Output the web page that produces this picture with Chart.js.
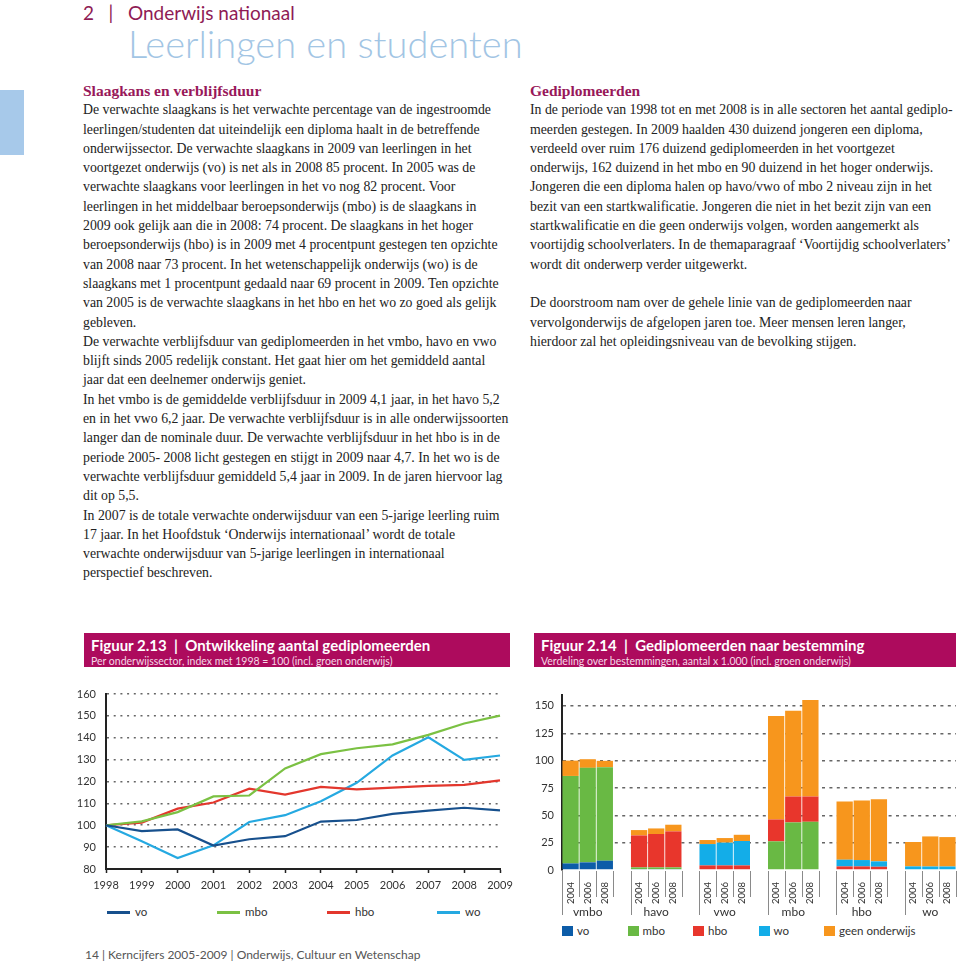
<!DOCTYPE html>
<html lang="nl">
<head>
<meta charset="utf-8">
<title>Leerlingen en studenten</title>
<script src="https://cdn.jsdelivr.net/npm/chart.js@4.4.1/dist/chart.umd.min.js"></script>
<style>
    html, body { margin: 0; padding: 0; background: #fff; }
    body { width: 960px; height: 973px; position: relative; overflow: hidden; font-family: 'Lato', sans-serif; color: #222; }
    .abs { position: absolute; }
    #hoofdstuk { left: 83px; top: 1px; font-size: 19px; line-height: 24px; color: #8f1b55; white-space: pre; }
    #titel { left: 128px; top: 20px; font-size: 38px; line-height: 46px; font-weight: 300; color: #a2c5e4; white-space: nowrap; }
    #blok { left: 0; top: 90px; width: 24px; height: 65px; background: #a7c9ea; }
    .kolom { font-family: 'Liberation Serif', serif; font-size: 13.8px; line-height: 19.3px; color: #222; white-space: nowrap; }
    .kolom h2 { margin: 0; font-size: 15.5px; line-height: 19.3px; color: #98185a; font-weight: bold; }
    .kolom p { margin: 0; }
    #links { left: 83px; top: 81px; }
    #rechts { left: 530px; top: 81px; }
    .figkop { top: 633px; height: 34px; box-sizing: border-box; padding: 3px 7px 0; background: #ad0b5d; color: #fff; white-space: pre; }
    .figkop b { display: block; font-size: 15px; line-height: 19px; font-weight: 700; }
    .figkop span { display: block; font-size: 10.5px; line-height: 12px; color: #f4d8e6; }
    #kop-213 { left: 84px; width: 426px; }
    #kop-214 { left: 534px; width: 422px; }
    #lijn-grafiek { left: 70px; top: 686px; }
    #staaf-grafiek { left: 530px; top: 690px; }
    .legenda-item { font-size: 11.5px; line-height: 14px; color: #333; white-space: nowrap; }
    .legenda-lijn { position: absolute; width: 23px; height: 3px; }
    .legenda-vak { position: absolute; width: 11px; height: 10px; }
    #voet { left: 85px; top: 947px; font-size: 12px; line-height: 16px; color: #555; white-space: pre; }
</style>
</head>
<body>
<div id="hoofdstuk" class="abs">2   |   Onderwijs nationaal</div>
<div id="titel" class="abs">Leerlingen en studenten</div>
<div id="blok" class="abs"></div>

<div id="links" class="abs kolom">
    <h2>Slaagkans en verblijfsduur</h2>
    <p>De verwachte slaagkans is het verwachte percentage van de ingestroomde<br>
    leerlingen/studenten dat uiteindelijk een diploma haalt in de betreffende<br>
    onderwijssector. De verwachte slaagkans in 2009 van leerlingen in het<br>
    voortgezet onderwijs (vo) is net als in 2008 85 procent. In 2005 was de<br>
    verwachte slaagkans voor leerlingen in het vo nog 82 procent. Voor<br>
    leerlingen in het middelbaar beroepsonderwijs (mbo) is de slaagkans in<br>
    2009 ook gelijk aan die in 2008: 74 procent. De slaagkans in het hoger<br>
    beroepsonderwijs (hbo) is in 2009 met 4 procentpunt gestegen ten opzichte<br>
    van 2008 naar 73 procent. In het wetenschappelijk onderwijs (wo) is de<br>
    slaagkans met 1 procentpunt gedaald naar 69 procent in 2009. Ten opzichte<br>
    van 2005 is de verwachte slaagkans in het hbo en het wo zo goed als gelijk<br>
    gebleven.<br>
    De verwachte verblijfsduur van gediplomeerden in het vmbo, havo en vwo<br>
    blijft sinds 2005 redelijk constant. Het gaat hier om het gemiddeld aantal<br>
    jaar dat een deelnemer onderwijs geniet.<br>
    In het vmbo is de gemiddelde verblijfsduur in 2009 4,1 jaar, in het havo 5,2<br>
    en in het vwo 6,2 jaar. De verwachte verblijfsduur is in alle onderwijssoorten<br>
    langer dan de nominale duur. De verwachte verblijfsduur in het hbo is in de<br>
    periode 2005- 2008 licht gestegen en stijgt in 2009 naar 4,7. In het wo is de<br>
    verwachte verblijfsduur gemiddeld 5,4 jaar in 2009. In de jaren hiervoor lag<br>
    dit op 5,5.<br>
    In 2007 is de totale verwachte onderwijsduur van een 5-jarige leerling ruim<br>
    17 jaar. In het Hoofdstuk ‘Onderwijs internationaal’ wordt de totale<br>
    verwachte onderwijsduur van 5-jarige leerlingen in internationaal<br>
    perspectief beschreven.</p>
</div>

<div id="rechts" class="abs kolom">
    <h2>Gediplomeerden</h2>
    <p>In de periode van 1998 tot en met 2008 is in alle sectoren het aantal gediplo-<br>
    meerden gestegen. In 2009 haalden 430 duizend jongeren een diploma,<br>
    verdeeld over ruim 176 duizend gediplomeerden in het voortgezet<br>
    onderwijs, 162 duizend in het mbo en 90 duizend in het hoger onderwijs.<br>
    Jongeren die een diploma halen op havo/vwo of mbo 2 niveau zijn in het<br>
    bezit van een startkwalificatie. Jongeren die niet in het bezit zijn van een<br>
    startkwalificatie en die geen onderwijs volgen, worden aangemerkt als<br>
    voortijdig schoolverlaters. In de themaparagraaf ‘Voortijdig schoolverlaters’<br>
    wordt dit onderwerp verder uitgewerkt.<br>
    <br>
    De doorstroom nam over de gehele linie van de gediplomeerden naar<br>
    vervolgonderwijs de afgelopen jaren toe. Meer mensen leren langer,<br>
    hierdoor zal het opleidingsniveau van de bevolking stijgen.</p>
</div>

<div id="kop-213" class="abs figkop"><b>Figuur 2.13  |  Ontwikkeling aantal gediplomeerden</b><span>Per onderwijssector, index met 1998 = 100 (incl. groen onderwijs)</span></div>
<div id="kop-214" class="abs figkop"><b>Figuur 2.14  |  Gediplomeerden naar bestemming</b><span>Verdeling over bestemmingen, aantal x 1.000 (incl. groen onderwijs)</span></div>

<canvas id="lijn-grafiek" class="abs" width="445" height="213"></canvas>
<canvas id="staaf-grafiek" class="abs" width="430" height="230"></canvas>
<div id="lijn-legenda"></div>
<div id="staaf-legenda"></div>

<div id="voet" class="abs">14 | Kerncijfers 2005-2009 | Onderwijs, Cultuur en Wetenschap</div>

<script>
// Figuur 2.13: index per onderwijssector (1998 = 100)
const jaren = ['1998', '1999', '2000', '2001', '2002', '2003', '2004', '2005', '2006', '2007', '2008', '2009'];
const sectoren = ['vo', 'mbo', 'hbo', 'wo'];
const indexVo = [100, 97.3, 98.1, 90.7, 93.6, 95, 101.7, 102.4, 105.2, 106.7, 108, 106.8];
const indexMbo = [100, 101.8, 106, 113.2, 113.6, 126, 132.5, 135.2, 137, 141.3, 146.5, 150.1];
const indexHbo = [100, 101.2, 107.6, 110.4, 116.7, 114, 117.5, 116.4, 117.2, 118, 118.5, 120.5];
const indexWo = [100, 92.7, 85, 90.8, 101.5, 104.6, 111, 119.4, 131.9, 140.2, 129.9, 131.9];
const indexTicks = [80, 90, 100, 110, 120, 130, 140, 150, 160];

// Figuur 2.14: bestemming van gediplomeerden, x 1.000 (per opleiding: 2004, 2006, 2008)
const opleidingen = ['vmbo', 'havo', 'vwo', 'mbo', 'hbo', 'wo'];
const peiljaren = ['2004', '2006', '2008'];
const bestemmingen = ['vo', 'mbo', 'hbo', 'wo', 'geen onderwijs'];
const naarVo = [6, 7, 8.5, 0.8, 0.8, 0.8, 0, 0, 0, 0, 0, 0, 0, 0, 0, 0, 0, 0];
const naarMbo = [80, 86.4, 85.5, 1.6, 1.6, 1.6, 0, 0, 0, 26.2, 43.5, 44.1, 0, 0, 0, 0, 0, 0];
const naarHbo = [0, 0, 0, 29.2, 30.5, 32.9, 4.2, 4.2, 4.2, 20, 23.7, 23.1, 3.3, 3.3, 3, 0, 0, 0];
const naarWo = [0, 0, 0, 0, 0, 0, 19.5, 20.8, 22.3, 0, 0, 0, 6.1, 5.8, 4.9, 3.3, 3.2, 3.2];
const geenOnderwijs = [14, 7.9, 5.8, 4.9, 5.1, 6.1, 3.7, 4.2, 5.7, 94.7, 78.5, 88.3, 53.3, 54.5, 56.9, 22.3, 27.5, 26.9];
const staafTicks = [0, 25, 50, 75, 100, 125, 150];

const lijnKleuren = ['#17508d', '#7bc143', '#e3372d', '#25a9e1'];
const staafKleuren = ['#0c5ca8', '#69b944', '#e8362c', '#13ade8', '#f7961d'];

document.addEventListener('DOMContentLoaded', () => {
    Chart.defaults.font.family = 'Lato';
    Chart.defaults.color = '#333';

    tekenLijnGrafiek();
    tekenStaafGrafiek();
    maakLegendas();
});

// Lijngrafiek
function tekenLijnGrafiek() {
    const ctx = document.getElementById('lijn-grafiek').getContext('2d');
    const reeksen = [indexVo, indexMbo, indexHbo, indexWo];

    new Chart(ctx, {
        type: 'line',
        data: {
            labels: jaren,
            datasets: reeksen.map((data, i) => ({
                label: sectoren[i],
                data: data,
                borderColor: lijnKleuren[i],
                backgroundColor: lijnKleuren[i]
            }))
        },
        options: {
            responsive: false,
            animation: false,
            layout: { padding: { top: 8, right: 15, bottom: 0, left: 0 } },
            elements: {
                line: { borderWidth: 2.2, tension: 0 },
                point: { radius: 0 }
            },
            plugins: {
                legend: { display: false },
                tooltip: { enabled: false }
            },
            scales: {
                x: {
                    offset: false,
                    grid: { drawOnChartArea: false, tickLength: 4, tickColor: '#222', tickWidth: 1.5 },
                    border: { color: '#222', width: 2 },
                    ticks: { font: { size: 11 }, padding: 6, maxRotation: 0, autoSkip: false },
                    afterFit: scale => {
                        scale.height = 30;
                        scale.paddingLeft = 0;
                        scale.paddingRight = 0;
                    }
                },
                y: {
                    min: 80,
                    max: 160,
                    afterBuildTicks: scale => {
                        scale.ticks = indexTicks.map(v => ({ value: v }));
                    },
                    grid: {
                        drawTicks: false,
                        lineWidth: 1.6,
                        color: c => c.tick && c.tick.value === 80 ? 'rgba(0,0,0,0)' : '#666'
                    },
                    border: { display: true, color: '#222', width: 2, dash: [2, 4.7] },
                    ticks: { font: { size: 11 }, padding: 10 },
                    afterFit: scale => {
                        scale.width = 36;
                        scale.paddingTop = 0;
                        scale.paddingBottom = 0;
                    }
                }
            }
        }
    });
}

// Voegt na elke opleiding een lege plek toe, zodat de groepen los van elkaar staan
function metTussenruimte(waarden, vulling) {
    const uit = [];
    waarden.forEach((w, i) => {
        if (i > 0 && i % peiljaren.length === 0) {
            uit.push(vulling);
        }
        uit.push(w);
    });
    return uit;
}

// Scheidingslijnen en namen van de opleidingen onder de x-as
const groepsIndeling = {
    id: 'groepsIndeling',
    afterDraw(chart) {
        const { ctx, scales: { x } } = chart;
        const slot = x.getPixelForValue(1) - x.getPixelForValue(0);
        const basis = chart.chartArea.bottom;

        ctx.save();
        ctx.strokeStyle = '#8a8a8a';
        ctx.lineWidth = 1;
        ctx.fillStyle = '#333';
        ctx.font = '12px Lato';
        ctx.textAlign = 'center';
        ctx.textBaseline = 'middle';

        opleidingen.forEach((naam, g) => {
            const eerste = g * (peiljaren.length + 1);
            const links = x.getPixelForValue(eerste) - slot / 2;
            for (let k = 0; k <= peiljaren.length; k++) {
                const px = Math.round(links + k * slot) + 0.5;
                ctx.beginPath();
                ctx.moveTo(px, basis + 1);
                ctx.lineTo(px, basis + (k === 0 ? 45 : 27));
                ctx.stroke();
            }
            ctx.fillText(naam, links + slot * peiljaren.length / 2, basis + 42);
        });
        ctx.restore();
    }
};

// Gestapelde staafgrafiek
function tekenStaafGrafiek() {
    const ctx = document.getElementById('staaf-grafiek').getContext('2d');
    const reeksen = [naarVo, naarMbo, naarHbo, naarWo, geenOnderwijs];
    const labels = metTussenruimte(opleidingen.flatMap(() => peiljaren), '');

    new Chart(ctx, {
        type: 'bar',
        data: {
            labels: labels,
            datasets: reeksen.map((data, i) => ({
                label: bestemmingen[i],
                data: metTussenruimte(data, null),
                backgroundColor: staafKleuren[i],
                borderWidth: 0,
                barPercentage: 0.95,
                categoryPercentage: 1
            }))
        },
        options: {
            responsive: false,
            animation: false,
            layout: { padding: { top: 5, right: 4, bottom: 0, left: 0 } },
            plugins: {
                legend: { display: false },
                tooltip: { enabled: false }
            },
            scales: {
                x: {
                    stacked: true,
                    grid: { display: false },
                    border: { display: false },
                    ticks: { font: { size: 9.5 }, padding: 4, minRotation: 90, maxRotation: 90, autoSkip: false },
                    afterFit: scale => {
                        scale.height = 50;
                        scale.paddingLeft = 0;
                        scale.paddingRight = 0;
                    }
                },
                y: {
                    stacked: true,
                    min: 0,
                    max: 160,
                    afterBuildTicks: scale => {
                        scale.ticks = staafTicks.map(v => ({ value: v }));
                    },
                    grid: {
                        drawTicks: false,
                        lineWidth: 1.5,
                        color: c => c.tick && c.tick.value === 0 ? 'rgba(0,0,0,0)' : '#666'
                    },
                    border: { display: true, color: '#222', width: 2, dash: [3, 4.4] },
                    ticks: { font: { size: 11 }, padding: 8 },
                    afterFit: scale => {
                        scale.width = 32;
                        scale.paddingTop = 0;
                        scale.paddingBottom = 0;
                    }
                }
            }
        },
        plugins: [groepsIndeling]
    });
}

// Legenda's als gewone tekst onder de grafieken
function maakLegendas() {
    const lijnLegenda = document.getElementById('lijn-legenda');
    sectoren.forEach((naam, i) => {
        const item = document.createElement('div');
        item.className = 'abs legenda-item';
        item.style.left = (107 + i * 110) + 'px';
        item.style.top = '905px';
        item.innerHTML = `<span class="legenda-lijn" style="left:0;top:6px;background:${lijnKleuren[i]}"></span>
            <span style="margin-left:28px">${naam}</span>`;
        lijnLegenda.appendChild(item);
    });

    const staafLegenda = document.getElementById('staaf-legenda');
    bestemmingen.forEach((naam, i) => {
        const item = document.createElement('div');
        item.className = 'abs legenda-item';
        item.style.left = (562 + i * 65.5) + 'px';
        item.style.top = '924px';
        item.innerHTML = `<span class="legenda-vak" style="left:0;top:2px;background:${staafKleuren[i]}"></span>
            <span style="margin-left:15px">${naam}</span>`;
        staafLegenda.appendChild(item);
    });
}
</script>
</body>
</html>
